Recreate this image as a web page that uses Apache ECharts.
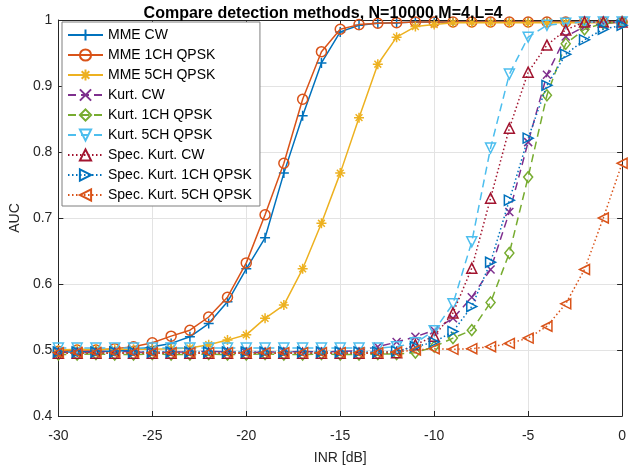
<!DOCTYPE html>
<html>
<head>
<meta charset="utf-8">
<script src="https://cdn.jsdelivr.net/npm/echarts@6/dist/echarts.min.js"></script>
<style>
html,body{margin:0;padding:0;background:#fff;}
#chart{width:629px;height:475px;}
</style>
</head>
<body>
<div id="chart"></div>
<script>
// INR [dB] values
const inr = [-30,-29,-28,-27,-26,-25,-24,-23,-22,-21,-20,-19,-18,-17,-16,-15,-14,-13,-12,-11,-10,-9,-8,-7,-6,-5,-4,-3,-2,-1,0];

const mmeCW = [0.497,0.497,0.498,0.498,0.500,0.505,0.510,0.520,0.540,0.573,0.623,0.670,0.768,0.855,0.935,0.982,0.992,0.995,0.996,0.997,0.997,0.997,0.997,0.997,0.997,0.997,0.997,0.997,0.997,0.997,0.997];
const mme1CH = [0.498,0.500,0.500,0.502,0.505,0.511,0.521,0.530,0.550,0.580,0.632,0.705,0.783,0.880,0.952,0.986,0.993,0.995,0.996,0.997,0.997,0.997,0.997,0.997,0.997,0.997,0.997,0.997,0.997,0.997,0.997];
const mme5CH = [0.500,0.501,0.501,0.501,0.501,0.501,0.502,0.503,0.508,0.515,0.523,0.548,0.568,0.623,0.692,0.768,0.852,0.933,0.974,0.990,0.993,0.996,0.996,0.996,0.996,0.996,0.996,0.996,0.996,0.996,0.996];
const kurtCW = [0.497,0.496,0.497,0.498,0.497,0.496,0.497,0.497,0.498,0.497,0.496,0.497,0.497,0.498,0.497,0.498,0.499,0.505,0.512,0.520,0.530,0.548,0.580,0.622,0.709,0.815,0.917,0.975,0.990,0.995,0.997];
const kurt1CH = [0.493,0.493,0.494,0.493,0.493,0.494,0.493,0.493,0.494,0.493,0.493,0.494,0.493,0.493,0.494,0.493,0.493,0.494,0.494,0.496,0.505,0.518,0.530,0.572,0.647,0.762,0.886,0.964,0.986,0.995,0.997];
const kurt5CH = [0.503,0.503,0.503,0.503,0.503,0.503,0.503,0.503,0.503,0.503,0.503,0.503,0.503,0.503,0.503,0.503,0.503,0.503,0.505,0.511,0.529,0.570,0.664,0.806,0.918,0.974,0.992,0.995,0.997,0.997,0.997];
const specCW = [0.495,0.495,0.495,0.495,0.495,0.495,0.495,0.495,0.495,0.495,0.495,0.495,0.495,0.495,0.495,0.495,0.495,0.495,0.496,0.508,0.521,0.556,0.624,0.730,0.836,0.921,0.962,0.985,0.997,0.997,0.997];
const spec1CH = [0.497,0.497,0.497,0.497,0.497,0.497,0.497,0.497,0.497,0.497,0.497,0.497,0.497,0.497,0.497,0.497,0.497,0.497,0.498,0.505,0.512,0.528,0.566,0.633,0.727,0.821,0.901,0.948,0.970,0.986,0.992];
const spec5CH = [0.496,0.496,0.496,0.496,0.496,0.496,0.496,0.496,0.496,0.496,0.496,0.496,0.496,0.496,0.496,0.496,0.496,0.496,0.497,0.500,0.502,0.501,0.502,0.505,0.510,0.518,0.536,0.570,0.622,0.700,0.783];

const names = ['MME CW','MME 1CH QPSK','MME 5CH QPSK','Kurt. CW','Kurt. 1CH QPSK','Kurt. 5CH QPSK','Spec. Kurt. CW','Spec. Kurt. 1CH QPSK','Spec. Kurt. 5CH QPSK'];
const values = [mmeCW, mme1CH, mme5CH, kurtCW, kurt1CH, kurt5CH, specCW, spec1CH, spec5CH];
const colors = ['#0072BD','#D95319','#EDB120','#7E2F8E','#77AC30','#4DBEEE','#A2142F','#0072BD','#D95319'];
const lineTypes = ['solid','solid','solid',[8,5],[8,5],[8,5],[1.5,2.5],[1.5,2.5],[1.5,2.5]];
const symbols = [
  'path://M5,0L5,10M0,5L10,5',
  'circle',
  'path://M5,0L5,10M0,5L10,5M1.6,1.6L8.4,8.4M8.4,1.6L1.6,8.4',
  'path://M0,0L10,10M10,0L0,10',
  'path://M5,0L10,6L5,12L0,6Z',
  'path://M0,0L10,0L5,9Z',
  'path://M5,0L10,9L0,9Z',
  'path://M0,0L9,5L0,10Z',
  'path://M9,0L0,5L9,10Z'
];
const sizes = [10,10,10,8,[9,11],10,10,10,10];

const series = names.map((n,i)=>({
  name:n,
  type:'line',
  data: inr.map((x,k)=>[x, values[i][k]]),
  symbol: symbols[i],
  symbolSize: sizes[i],
  showAllSymbol:true,
  lineStyle:{color:colors[i], width:1.5, type:lineTypes[i]},
  itemStyle:{color:'rgba(0,0,0,0)', borderColor:colors[i], borderWidth:1.5},
  emphasis:{disabled:true},
  z: 2+i
}));

const fontFam = 'Liberation Sans, Arial, Helvetica, sans-serif';
const txt = '#262626';

const chart = echarts.init(document.getElementById('chart'));
chart.setOption({
  animation:false,
  backgroundColor:'#fff',
  title:{
    text:'Compare detection methods, N=10000,M=4,L=4',
    left:318, top:1, textAlign:'center',
    textStyle:{fontFamily:fontFam, fontSize:16, fontWeight:'bold', color:'#000'}
  },
  legend:{
    orient:'vertical', left:62, top:22,
    backgroundColor:'#fff', borderColor:'#7f7f7f', borderWidth:1,
    padding:[6,8,4,5],
    itemWidth:35, itemHeight:14, itemGap:6,
    textStyle:{fontFamily:fontFam, fontSize:14, color:'#000'},
    data:names,
    z:20
  },
  grid:{left:56, right:3, top:20, bottom:59, containLabel:false},
  xAxis:[{
    type:'value', min:-30, max:0, interval:5,
    name:'INR [dB]', nameLocation:'middle', nameGap:35,
    nameTextStyle:{fontFamily:fontFam, fontSize:14, color:txt},
    axisLine:{onZero:false, lineStyle:{color:txt, width:1}},
    axisTick:{inside:true, length:5, lineStyle:{color:txt}},
    axisLabel:{fontFamily:fontFam, fontSize:14, color:txt, margin:13},
    splitLine:{show:true, lineStyle:{color:'#e3e3e3', width:1}}
  },{
    type:'value', position:'top', min:-30, max:0, interval:5,
    axisLine:{onZero:false, lineStyle:{color:txt, width:1}},
    axisTick:{inside:true, length:5, lineStyle:{color:txt}},
    axisLabel:{show:false}, splitLine:{show:false}
  }],
  yAxis:[{
    type:'value', min:0.4, max:1, interval:0.1,
    name:'AUC', nameLocation:'middle', nameGap:35, nameRotate:90,
    nameTextStyle:{fontFamily:fontFam, fontSize:14, color:txt},
    axisLine:{show:true, onZero:false, lineStyle:{color:txt, width:1}},
    axisTick:{show:true, inside:true, length:5, lineStyle:{color:txt}},
    axisLabel:{fontFamily:fontFam, fontSize:14, color:txt, margin:6},
    splitLine:{show:true, lineStyle:{color:'#e3e3e3', width:1}}
  },{
    type:'value', position:'right', min:0.4, max:1, interval:0.1,
    axisLine:{show:true, onZero:false, lineStyle:{color:txt, width:1}},
    axisTick:{show:true, inside:true, length:5, lineStyle:{color:txt}},
    axisLabel:{show:false}, splitLine:{show:false}
  }],
  series: series
});
</script>
</body>
</html>
